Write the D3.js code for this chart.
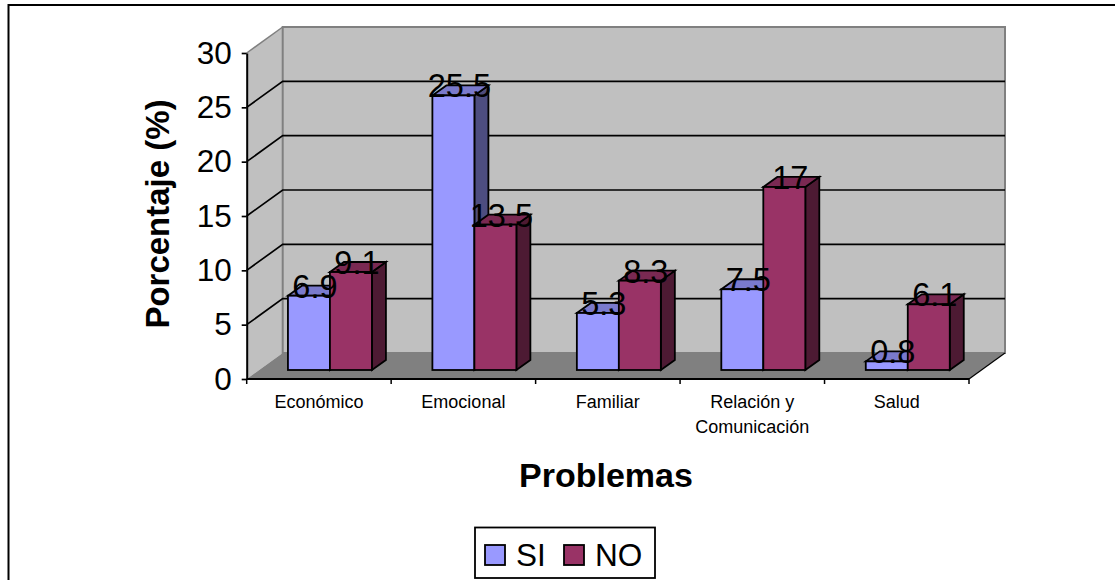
<!DOCTYPE html>
<html>
<head>
<meta charset="utf-8">
<script src="https://cdn.jsdelivr.net/npm/d3@7"></script>
<style>
  body { margin: 0; background: #fff; }
  text { font-family: "Liberation Sans", Arial, sans-serif; fill: #000; }
</style>
</head>
<body>
<div id="wrapper"></div>
<script>
const categories = [["Económico"], ["Emocional"], ["Familiar"], ["Relación y", "Comunicación"], ["Salud"]]
const seriesNames = ["SI", "NO"]
const si = [6.9, 25.5, 5.3, 7.5, 0.8]
const no = [9.1, 13.5, 8.3, 17, 6.1]
const yTicks = [0, 5, 10, 15, 20, 25, 30]

const colors = { SI: "#9999ff", NO: "#993366" }
const topColors = { SI: "#7a7acc", NO: "#7a2952" }
const sideColors = { SI: "#4d4d80", NO: "#4d1a33" }

const width = 1115
const height = 580

// the front edge of the box, and how far the back wall is pushed away
const front = { left: 246.7, right: 969, top: 53, bottom: 379 }
const depth = { x: 36, y: -26 }
// the bars stand partly into the floor
const barShift = { x: 11, y: -9 }
const barDepth = { x: 14, y: -10 }

const svg = d3.select("#wrapper")
  .append("svg")
    .attr("width", width)
    .attr("height", height)
    .style("display", "block")

// frame runs off the right and bottom of the picture
svg.append("rect")
    .attr("x", 8.5)
    .attr("y", 5)
    .attr("width", 1120)
    .attr("height", 590)
    .attr("fill", "#fff")
    .attr("stroke", "#000")
    .attr("stroke-width", 2)

const yScale = d3.scaleLinear()
  .domain([0, 30])
  .range([front.bottom, front.top])

// bars are drawn a touch shorter than the axis because of the perspective
const barScale = d3.scaleLinear()
  .domain([0, 30])
  .range([front.bottom + barShift.y, front.top + barShift.y + 3])

const xScale = d3.scaleBand()
  .domain(d3.range(categories.length))
  .range([front.left, front.right])

const innerScale = d3.scaleBand()
  .domain(seriesNames)
  .range([0, xScale.bandwidth()])
  .paddingInner(0)
  .paddingOuter(0.72)

const poly = pts => "M" + pts.map(p => p.join(",")).join("L") + "Z"

// walls and floor
const x0 = front.left, x1 = front.right
const y0 = yScale(0), y30 = yScale(30)
svg.append("path")
    .attr("d", poly([[x0, y0], [x0 + depth.x, y0 + depth.y], [x0 + depth.x, y30 + depth.y], [x0, y30]]))
    .attr("fill", "#c0c0c0")
svg.append("path")
    .attr("d", poly([[x0 + depth.x, y0 + depth.y], [x1 + depth.x, y0 + depth.y], [x1 + depth.x, y30 + depth.y], [x0 + depth.x, y30 + depth.y]]))
    .attr("fill", "#c0c0c0")
    .attr("stroke", "#808080")
    .attr("stroke-width", 2)
svg.append("path")
    .attr("d", poly([[x0, y0], [x1, y0], [x1 + depth.x, y0 + depth.y], [x0 + depth.x, y0 + depth.y]]))
    .attr("fill", "#808080")
svg.append("path")
    .attr("d", `M${x0},${y30}L${x0 + depth.x},${y30 + depth.y}`)
    .attr("stroke", "#808080")
    .attr("stroke-width", 1.5)

// gridlines run along the side wall and the back wall
svg.append("g")
  .selectAll("path")
  .data(yTicks.filter(d => d > 0 && d < 30))
  .join("path")
    .attr("d", d => `M${x0},${yScale(d)}L${x0 + depth.x},${yScale(d) + depth.y}L${x1 + depth.x},${yScale(d) + depth.y}`)
    .attr("fill", "none")
    .attr("stroke", "#000")
    .attr("stroke-width", 1.7)

// axes
const yAxis = svg.append("g")
    .attr("transform", `translate(${x0},0)`)
    .call(d3.axisLeft(yScale).tickValues(yTicks).tickSize(5).tickPadding(10).tickSizeOuter(0))
yAxis.select(".domain").attr("stroke-width", 2)
yAxis.selectAll("line").attr("stroke-width", 1.7)
yAxis.selectAll("text")
    .style("font-size", "31.5px")
    .style("font-family", "'Liberation Sans'")

svg.append("path")
    .attr("d", `M${x0},${y0}L${x1},${y0}`)
    .attr("stroke", "#000")
    .attr("stroke-width", 2.2)
svg.append("path")
    .attr("d", `M${x1},${y0}L${x1 + depth.x},${y0 + depth.y}`)
    .attr("stroke", "#000")
    .attr("stroke-width", 1.2)
svg.append("g")
  .selectAll("line")
  .data(d3.range(categories.length + 1))
  .join("line")
    .attr("x1", d => x0 + d * xScale.step())
    .attr("x2", d => x0 + d * xScale.step())
    .attr("y1", y0)
    .attr("y2", y0 + 5)
    .attr("stroke", "#000")
    .attr("stroke-width", 1.5)

// bars, series by series
const rows = categories.map((c, i) => [
  { cat: i, name: "SI", value: si[i] },
  { cat: i, name: "NO", value: no[i] },
])

const catGroups = svg.append("g")
  .selectAll("g")
  .data(rows)
  .join("g")

const bars = catGroups.selectAll("g")
  .data(d => d)
  .join("g")

const barX = d => xScale(d.cat) + innerScale(d.name) + barShift.x
const barW = innerScale.bandwidth()

bars.append("path")
    .attr("d", d => {
      const x = barX(d) + barW, t = barScale(d.value), b = barScale(0)
      return poly([[x, t], [x + barDepth.x, t + barDepth.y], [x + barDepth.x, b + barDepth.y], [x, b]])
    })
    .attr("fill", d => sideColors[d.name])
    .attr("stroke", "#000")
    .attr("stroke-width", 1.8)
bars.append("path")
    .attr("d", d => {
      const x = barX(d), t = barScale(d.value)
      return poly([[x, t], [x + barDepth.x, t + barDepth.y], [x + barW + barDepth.x, t + barDepth.y], [x + barW, t]])
    })
    .attr("fill", d => topColors[d.name])
    .attr("stroke", "#000")
    .attr("stroke-width", 1.8)
bars.append("rect")
    .attr("x", barX)
    .attr("y", d => barScale(d.value))
    .attr("width", barW)
    .attr("height", d => barScale(0) - barScale(d.value))
    .attr("fill", d => colors[d.name])
    .attr("stroke", "#000")
    .attr("stroke-width", 1.8)

// value labels go over everything
svg.append("g")
  .selectAll("text")
  .data(rows.flat())
  .join("text")
    .attr("x", d => barX(d) + barW / 2 + 6)
    .attr("y", d => barScale(d.value) + 2)
    .attr("text-anchor", "middle")
    .style("font-size", "32.5px")
    .text(d => d.value)

// category labels
svg.append("g")
  .selectAll("text")
  .data(categories)
  .join("text")
    .attr("x", (d, i) => xScale(i) + xScale.bandwidth() / 2)
    .attr("y", 408)
    .attr("text-anchor", "middle")
    .style("font-size", "18px")
  .selectAll("tspan")
  .data(d => d)
  .join("tspan")
    .attr("x", function() { return d3.select(this.parentNode).attr("x") })
    .attr("dy", (d, i) => i ? 25 : 0)
    .text(d => d)

svg.append("text")
    .attr("x", 606)
    .attr("y", 487)
    .attr("text-anchor", "middle")
    .style("font-size", "34px")
    .style("font-weight", "bold")
    .text("Problemas")

svg.append("text")
    .attr("transform", "translate(169,214) rotate(-90)")
    .attr("text-anchor", "middle")
    .style("font-size", "33px")
    .style("font-weight", "bold")
    .text("Porcentaje (%)")

// legend
svg.append("rect")
    .attr("x", 475)
    .attr("y", 527.5)
    .attr("width", 180)
    .attr("height", 50.5)
    .attr("fill", "#fff")
    .attr("stroke", "#000")
    .attr("stroke-width", 1.8)
const legendX = d3.scalePoint().domain(seriesNames).range([485, 564])
const items = svg.append("g")
  .selectAll("g")
  .data(seriesNames)
  .join("g")
    .attr("transform", d => `translate(${legendX(d)},545)`)
items.append("rect")
    .attr("width", 20)
    .attr("height", 20)
    .attr("fill", d => colors[d])
    .attr("stroke", "#000")
    .attr("stroke-width", 1.8)
items.append("text")
    .attr("x", 31)
    .attr("y", 21)
    .style("font-size", "31.5px")
    .text(d => d)
</script>
</body>
</html>
